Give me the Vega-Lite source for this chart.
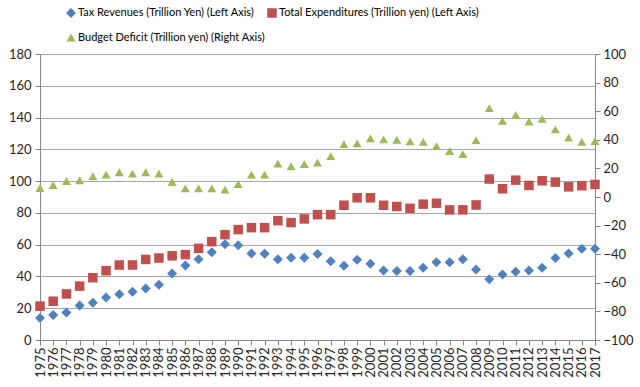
{
  "$schema": "https://vega.github.io/schema/vega-lite/v6.json",
  "width": 555,
  "height": 286,
  "autosize": {"type": "none"},
  "padding": {"left": 40, "top": 54, "right": 45, "bottom": 47},
  "background": "white",
  "config": {
    "font": "Lato",
    "view": {"stroke": null},
    "axis": {
      "labelFont": "Lato",
      "labelFontSize": 13,
      "labelColor": "#262626",
      "domainColor": "#868686",
      "tickColor": "#868686",
      "tickSize": 5,
      "title": null
    },
    "legend": {"labelFont": "Lato"}
  },
  "data": {
    "values": [
      {"year": 1975, "s": "T", "v": 13.9}, {"year": 1976, "s": "T", "v": 15.8}, {"year": 1977, "s": "T", "v": 17.3}, {"year": 1978, "s": "T", "v": 21.7}, {"year": 1979, "s": "T", "v": 23.4},
      {"year": 1980, "s": "T", "v": 26.7}, {"year": 1981, "s": "T", "v": 28.8}, {"year": 1982, "s": "T", "v": 30.3}, {"year": 1983, "s": "T", "v": 32.4}, {"year": 1984, "s": "T", "v": 34.7},
      {"year": 1985, "s": "T", "v": 41.9}, {"year": 1986, "s": "T", "v": 46.9}, {"year": 1987, "s": "T", "v": 50.9}, {"year": 1988, "s": "T", "v": 55.2}, {"year": 1989, "s": "T", "v": 60.2},
      {"year": 1990, "s": "T", "v": 59.6}, {"year": 1991, "s": "T", "v": 54.5}, {"year": 1992, "s": "T", "v": 54.3}, {"year": 1993, "s": "T", "v": 50.9}, {"year": 1994, "s": "T", "v": 51.8},
      {"year": 1995, "s": "T", "v": 51.8}, {"year": 1996, "s": "T", "v": 54.1}, {"year": 1997, "s": "T", "v": 49.5}, {"year": 1998, "s": "T", "v": 46.7}, {"year": 1999, "s": "T", "v": 50.5},
      {"year": 2000, "s": "T", "v": 48.0}, {"year": 2001, "s": "T", "v": 43.8}, {"year": 2002, "s": "T", "v": 43.4}, {"year": 2003, "s": "T", "v": 43.4}, {"year": 2004, "s": "T", "v": 45.5},
      {"year": 2005, "s": "T", "v": 49.0}, {"year": 2006, "s": "T", "v": 49.0}, {"year": 2007, "s": "T", "v": 50.9}, {"year": 2008, "s": "T", "v": 44.4}, {"year": 2009, "s": "T", "v": 38.3},
      {"year": 2010, "s": "T", "v": 41.3}, {"year": 2011, "s": "T", "v": 42.9}, {"year": 2012, "s": "T", "v": 43.8}, {"year": 2013, "s": "T", "v": 45.5}, {"year": 2014, "s": "T", "v": 51.6},
      {"year": 2015, "s": "T", "v": 54.5}, {"year": 2016, "s": "T", "v": 57.5}, {"year": 2017, "s": "T", "v": 57.5},
      {"year": 1975, "s": "E", "v": 21.3}, {"year": 1976, "s": "E", "v": 24.4}, {"year": 1977, "s": "E", "v": 29.0}, {"year": 1978, "s": "E", "v": 33.9}, {"year": 1979, "s": "E", "v": 39.2},
      {"year": 1980, "s": "E", "v": 43.6}, {"year": 1981, "s": "E", "v": 47.2}, {"year": 1982, "s": "E", "v": 47.2}, {"year": 1983, "s": "E", "v": 50.7}, {"year": 1984, "s": "E", "v": 51.6},
      {"year": 1985, "s": "E", "v": 53.0}, {"year": 1986, "s": "E", "v": 53.7}, {"year": 1987, "s": "E", "v": 57.7}, {"year": 1988, "s": "E", "v": 61.9}, {"year": 1989, "s": "E", "v": 66.3},
      {"year": 1990, "s": "E", "v": 69.5}, {"year": 1991, "s": "E", "v": 70.7}, {"year": 1992, "s": "E", "v": 70.7}, {"year": 1993, "s": "E", "v": 75.1}, {"year": 1994, "s": "E", "v": 73.9},
      {"year": 1995, "s": "E", "v": 76.2}, {"year": 1996, "s": "E", "v": 78.9}, {"year": 1997, "s": "E", "v": 78.9}, {"year": 1998, "s": "E", "v": 84.8}, {"year": 1999, "s": "E", "v": 89.5},
      {"year": 2000, "s": "E", "v": 89.5}, {"year": 2001, "s": "E", "v": 84.8}, {"year": 2002, "s": "E", "v": 84.0}, {"year": 2003, "s": "E", "v": 82.9}, {"year": 2004, "s": "E", "v": 85.5},
      {"year": 2005, "s": "E", "v": 86.1}, {"year": 2006, "s": "E", "v": 81.9}, {"year": 2007, "s": "E", "v": 81.9}, {"year": 2008, "s": "E", "v": 85.0}, {"year": 2009, "s": "E", "v": 101.3},
      {"year": 2010, "s": "E", "v": 95.2}, {"year": 2011, "s": "E", "v": 100.6}, {"year": 2012, "s": "E", "v": 97.3}, {"year": 2013, "s": "E", "v": 100.2}, {"year": 2014, "s": "E", "v": 99.4},
      {"year": 2015, "s": "E", "v": 96.4}, {"year": 2016, "s": "E", "v": 97.1}, {"year": 2017, "s": "E", "v": 97.9},
      {"year": 1975, "s": "D", "v": 6.3}, {"year": 1976, "s": "D", "v": 8.4}, {"year": 1977, "s": "D", "v": 11.2}, {"year": 1978, "s": "D", "v": 11.7}, {"year": 1979, "s": "D", "v": 14.5},
      {"year": 1980, "s": "D", "v": 15.7}, {"year": 1981, "s": "D", "v": 17.3}, {"year": 1982, "s": "D", "v": 16.4}, {"year": 1983, "s": "D", "v": 17.3}, {"year": 1984, "s": "D", "v": 16.4},
      {"year": 1985, "s": "D", "v": 10.5}, {"year": 1986, "s": "D", "v": 6.1}, {"year": 1987, "s": "D", "v": 6.1}, {"year": 1988, "s": "D", "v": 6.1}, {"year": 1989, "s": "D", "v": 5.2},
      {"year": 1990, "s": "D", "v": 9.1}, {"year": 1991, "s": "D", "v": 15.7}, {"year": 1992, "s": "D", "v": 15.7}, {"year": 1993, "s": "D", "v": 23.4}, {"year": 1994, "s": "D", "v": 21.5},
      {"year": 1995, "s": "D", "v": 23.0}, {"year": 1996, "s": "D", "v": 24.1}, {"year": 1997, "s": "D", "v": 28.6}, {"year": 1998, "s": "D", "v": 37.0}, {"year": 1999, "s": "D", "v": 37.5},
      {"year": 2000, "s": "D", "v": 41.0}, {"year": 2001, "s": "D", "v": 40.3}, {"year": 2002, "s": "D", "v": 40.0}, {"year": 2003, "s": "D", "v": 38.9}, {"year": 2004, "s": "D", "v": 38.6},
      {"year": 2005, "s": "D", "v": 35.6}, {"year": 2006, "s": "D", "v": 32.1}, {"year": 2007, "s": "D", "v": 30.0}, {"year": 2008, "s": "D", "v": 39.8}, {"year": 2009, "s": "D", "v": 62.1},
      {"year": 2010, "s": "D", "v": 53.2}, {"year": 2011, "s": "D", "v": 57.4}, {"year": 2012, "s": "D", "v": 52.7}, {"year": 2013, "s": "D", "v": 54.6}, {"year": 2014, "s": "D", "v": 47.3},
      {"year": 2015, "s": "D", "v": 41.5}, {"year": 2016, "s": "D", "v": 38.6}, {"year": 2017, "s": "D", "v": 39.1}
    ]
  },
  "encoding": {
    "x": {
      "field": "year",
      "type": "ordinal",
      "scale": {"type": "point", "padding": 0},
      "axis": {"labelAngle": -90, "labelAlign": "right", "labelBaseline": "middle", "labelPadding": 2, "grid": false, "ticks": true}
    },
    "color": {
      "field": "s",
      "type": "nominal",
      "scale": {"domain": ["T", "E", "D"], "range": ["#4F81BD", "#C0504D", "#9BBB59"]},
      "legend": {
        "orient": "none",
        "legendX": 25,
        "legendY": -47,
        "direction": "horizontal",
        "columns": 2,
        "title": null,
        "labelFontSize": 11,
        "labelColor": "#000000",
        "labelLimit": 400,
        "labelOffset": 1,
        "symbolSize": 64,
        "rowPadding": 13,
        "columnPadding": -6,
        "labelExpr": "datum.label == 'T' ? 'Tax Revenues (Trillion Yen) (Left Axis)' : datum.label == 'E' ? 'Total Expenditures (Trillion yen) (Left Axis)' : 'Budget Deficit (Trillion yen) (Right Axis)'"
      }
    },
    "shape": {
      "field": "s",
      "type": "nominal",
      "scale": {"domain": ["T", "E", "D"], "range": ["diamond", "square", "triangle-up"]}
    },
    "size": {
      "field": "s",
      "type": "nominal",
      "scale": {"domain": ["T", "E", "D"], "range": [100, 81, 110]},
      "legend": null
    }
  },
  "layer": [
    {
      "transform": [{"filter": "datum.s != 'D'"}],
      "mark": {"type": "point", "filled": true, "opacity": 1},
      "encoding": {
        "y": {
          "field": "v",
          "type": "quantitative",
          "scale": {"domain": [0, 180], "nice": false, "zero": true},
          "axis": {"values": [0, 20, 40, 60, 80, 100, 120, 140, 160, 180], "grid": true, "gridColor": "#A6A6A6", "labelPadding": 4, "orient": "left"}
        }
      }
    },
    {
      "transform": [{"filter": "datum.s == 'D'"}],
      "mark": {"type": "point", "filled": true, "opacity": 1},
      "encoding": {
        "y": {
          "field": "v",
          "type": "quantitative",
          "scale": {"domain": [-100, 100], "nice": false},
          "axis": {"values": [-100, -80, -60, -40, -20, 0, 20, 40, 60, 80, 100], "grid": false, "labelPadding": 3, "orient": "right", "labelAlign": "left"}
        }
      }
    }
  ],
  "resolve": {"scale": {"y": "independent"}}
}
